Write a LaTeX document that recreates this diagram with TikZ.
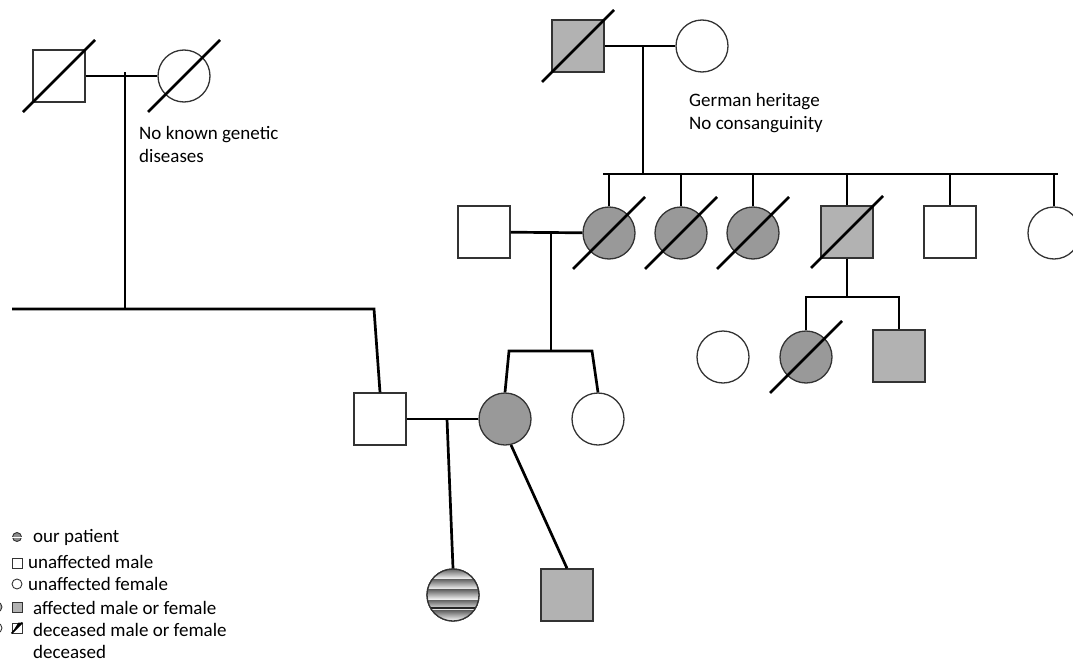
\documentclass[tikz,border=0pt]{standalone}
\usepackage{fontspec}
\setmainfont{Carlito}
\usetikzlibrary{positioning}
\tikzset{
  person/.style={draw=black!80, line width=1.3pt, inner sep=0pt, minimum size=52pt},
  male/.style={person, rectangle},
  female/.style={person, circle},
  affmale/.style={male, fill=black!30},
  afffemale/.style={female, fill=black!40},
  kin/.style={line width=2.7pt},
  note/.style={font=\fontsize{19}{23}\selectfont, inner sep=0pt, align=left},
  legsym/.style={draw=black!80, line width=0.9pt, inner sep=0pt, minimum size=10pt}
}
\begin{document}
\begin{tikzpicture}[x=1pt,y=-1pt]
\useasboundingbox (0,0) rectangle (1073,661);
% left grandparents
\node[male] (lgpa) at (59,76) {};
\node[female] (lgma) at (184,76) {};
\draw[kin] (lgpa) -- (lgma);
\coordinate (lmid) at (125,72);
\coordinate (lsibl) at (12,309);
\coordinate (lsibm) at (125,309);
\coordinate (lsibr) at (374,309);
\draw[kin] (lmid) -- (lsibm);
\node[note, anchor=north west] (lnote) at (139,126) {No known genetic\\diseases};
% right grandparents
\node[affmale] (rgpa) at (578,46) {};
\node[female] (rgma) at (702,46) {};
\draw[kin] (rgpa) -- (rgma);
\coordinate (rmid) at (643,46);
\coordinate (rsibm) at (643,174);
\coordinate (rsibl) at (603,174);
\coordinate (rsibr) at (1058,174);
\draw[kin] (rmid) -- (rsibm);
\node[note, anchor=north west] (rnote) at (689,93) {German heritage\\No consanguinity};
% children of right grandparents
\node[afffemale] (aunta) at (609,233) {};
\node[afffemale] (auntb) at (681,233) {};
\node[afffemale] (auntc) at (753,233) {};
\node[affmale] (uncle) at (847,232) {};
\node[male] (uncleb) at (950,232) {};
\node[female] (auntd) at (1054,233) {};
\draw[kin] (rsibl) -- (rsibr);
\foreach \p in {aunta,auntb,auntc,uncle,uncleb,auntd} % drops from sibship line
\draw[kin] (\p.north |- rsibm) -- (\p.north);
% aunt's husband and daughters
\node[male] (husb) at (484,232) {};
\draw[kin] (husb) -- (aunta);
\coordinate (hmid) at (551,234);
\coordinate (hsibm) at (551,351);
\coordinate (hsibl) at (509,351);
\coordinate (hsibr) at (592,351);
\draw[kin] (hmid) -- (hsibm);
\node[afffemale] (mother) at (505,419) {};
\node[female] (mtwin) at (598,419) {};
\draw[kin] (mother.north) -- (hsibl) -- (hsibr) -- (mtwin.north);
% uncle's children
\coordinate (usibm) at (847,297);
\coordinate (usibl) at (806,297);
\coordinate (usibr) at (899,297);
\node[female] (ufem) at (723,357) {};
\node[afffemale] (cousa) at (806,357) {};
\node[affmale] (cousb) at (899,356) {};
\draw[kin] (uncle.south) -- (usibm);
\draw[kin] (cousa.north) -- (usibl) -- (usibr) -- (cousb.north);
% parents and children
\node[male] (father) at (380,419) {};
\draw[kin] (lsibl) -- (lsibr) -- (father.north);
\draw[kin] (father) -- (mother);
\coordinate (pmid) at (447,419);
\node[female] (patient) at (453,595) {};
\node[affmale] (brother) at (567,595) {};
\begin{scope}
\clip (patient) circle (26pt);
\fill[white] (patient) circle (26pt);
\foreach \k in {0,...,4} % stripes
\shade[shift={(patient)}, top color=black!60, bottom color=white] (-27,-26+10.4*\k) rectangle (27,-26+10.4*\k+10.4);
\draw[line width=2pt, black!85] ([shift={(-27,13)}]patient.center) -- ([shift={(27,13)}]patient.center);
\end{scope}
\draw[draw=black!80, line width=1.3pt] (patient) circle (26pt);
\draw[kin] (pmid) -- (patient.north);
\draw[kin] (mother.-77) -- (brother.north);
% deceased
\foreach \p in {lgpa,lgma,rgpa,aunta,auntb,auntc,uncle,cousa}
\draw[kin, shift={(\p.center)}] (-36,36) -- (36,-36);
% legend
\node[legsym, circle, minimum size=9pt, fill=black!45] (kpat) at (17,537) {};
\draw[line width=0.8pt, white] (kpat.west) -- (kpat.east);
\node[legsym] (kmale) at (17,563) {};
\node[legsym, circle] (kfem) at (17,584) {};
\node[legsym, fill=black!30] (kaff) at (17,607) {};
\node[legsym] (kdec) at (17,628) {};
\draw[line width=1.6pt] (kdec.south west) -- (kdec.north east);
\fill[black] (kdec.south west) -- (kdec.north east) -- ([xshift=-4pt]kdec.north east) -- cycle;
\node[legsym, circle, fill=black!30] (kaffc) at (-3,607) {};
\node[legsym, circle] (kdecc) at (-3,628) {};
\node[note, anchor=base west] (tpat) at (33,542) {our patient};
\node[note, anchor=base west] (tmale) at (28,568) {unaffected male};
\node[note, anchor=base west] (tfem) at (28,590) {unaffected female};
\node[note, anchor=base west] (taff) at (33,614) {affected male or female};
\node[note, anchor=base west] (tdec) at (33,636) {deceased male or female};
\node[note, anchor=base west] (tdecb) at (33,658) {deceased};
\end{tikzpicture}
\end{document}
